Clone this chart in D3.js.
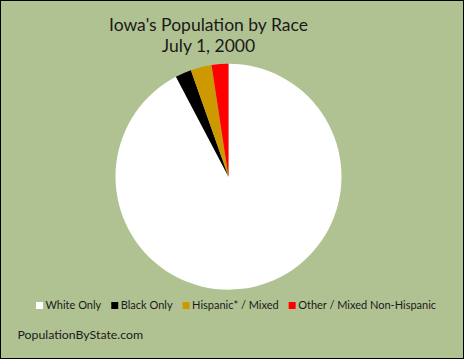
<!DOCTYPE html>
<html>
<head>
<meta charset="utf-8">
<script src="https://d3js.org/d3.v7.min.js"></script>
<style>
  body { margin: 0; background: #fff; }
  svg { display: block; }
  text { font-family: Lato, "Open Sans", sans-serif; fill: #1a1a1a; }
</style>
</head>
<body>
<svg id="chart" width="464" height="359"></svg>
<script>
// Werte (Prozent)
const categories = ["White Only", "Black Only", "Hispanic* / Mixed", "Other / Mixed Non-Hispanic"];
const shares = [92.3, 2.3, 3.0, 2.4];
const colors = ["#ffffff", "#000000", "#cc9900", "#ff0000"];
const titleLines = ["Iowa's Population by Race", "July 1, 2000"];
const footer = "PopulationByState.com";

const svg = d3.select("#chart"),
    width = +svg.attr("width"),
    height = +svg.attr("height");

// Hintergrund mit Rahmen
svg.append("rect")
    .attr("x", 0.5).attr("y", 0.5)
    .attr("width", width - 1).attr("height", height - 1)
    .attr("fill", "#b1c292")
    .attr("stroke", "#000")
    .attr("stroke-width", 1);

// Titel
svg.append("g").selectAll("text")
    .data(titleLines)
    .enter().append("text")
    .attr("x", 208.5)
    .attr("y", (d, i) => 31 + i * 21)
    .attr("text-anchor", "middle")
    .style("font-size", "17.5px")
    .text(d => d);

// Torte
const pieData = categories.map((c, i) => ({ name: c, value: shares[i], color: colors[i] }));
const pie = d3.pie().sort(null).value(d => d.value);
const arc = d3.arc().innerRadius(0).outerRadius(113);

svg.append("g")
    .attr("transform", "translate(228.5,176.7)")
    .selectAll("path")
    .data(pie(pieData))
    .enter().append("path")
    .attr("d", arc)
    .attr("fill", d => d.data.color);

// Legende
const legend = svg.append("g").attr("transform", "translate(36,309)");
let xPos = 0;
pieData.forEach(d => {
    const item = legend.append("g").attr("transform", "translate(" + xPos + ",0)");
    item.append("rect")
        .attr("x", 0).attr("y", -7)
        .attr("width", 7).attr("height", 7)
        .attr("fill", d.color);
    const t = item.append("text")
        .attr("x", 9.5).attr("y", 0)
        .style("font-size", "11px")
        .text(d.name);
    xPos += 9.5 + t.node().getComputedTextLength() + 10;
});

// Quelle
svg.append("text")
    .attr("x", 17.5).attr("y", 339)
    .style("font-size", "12.3px")
    .text(footer);
</script>
</body>
</html>
